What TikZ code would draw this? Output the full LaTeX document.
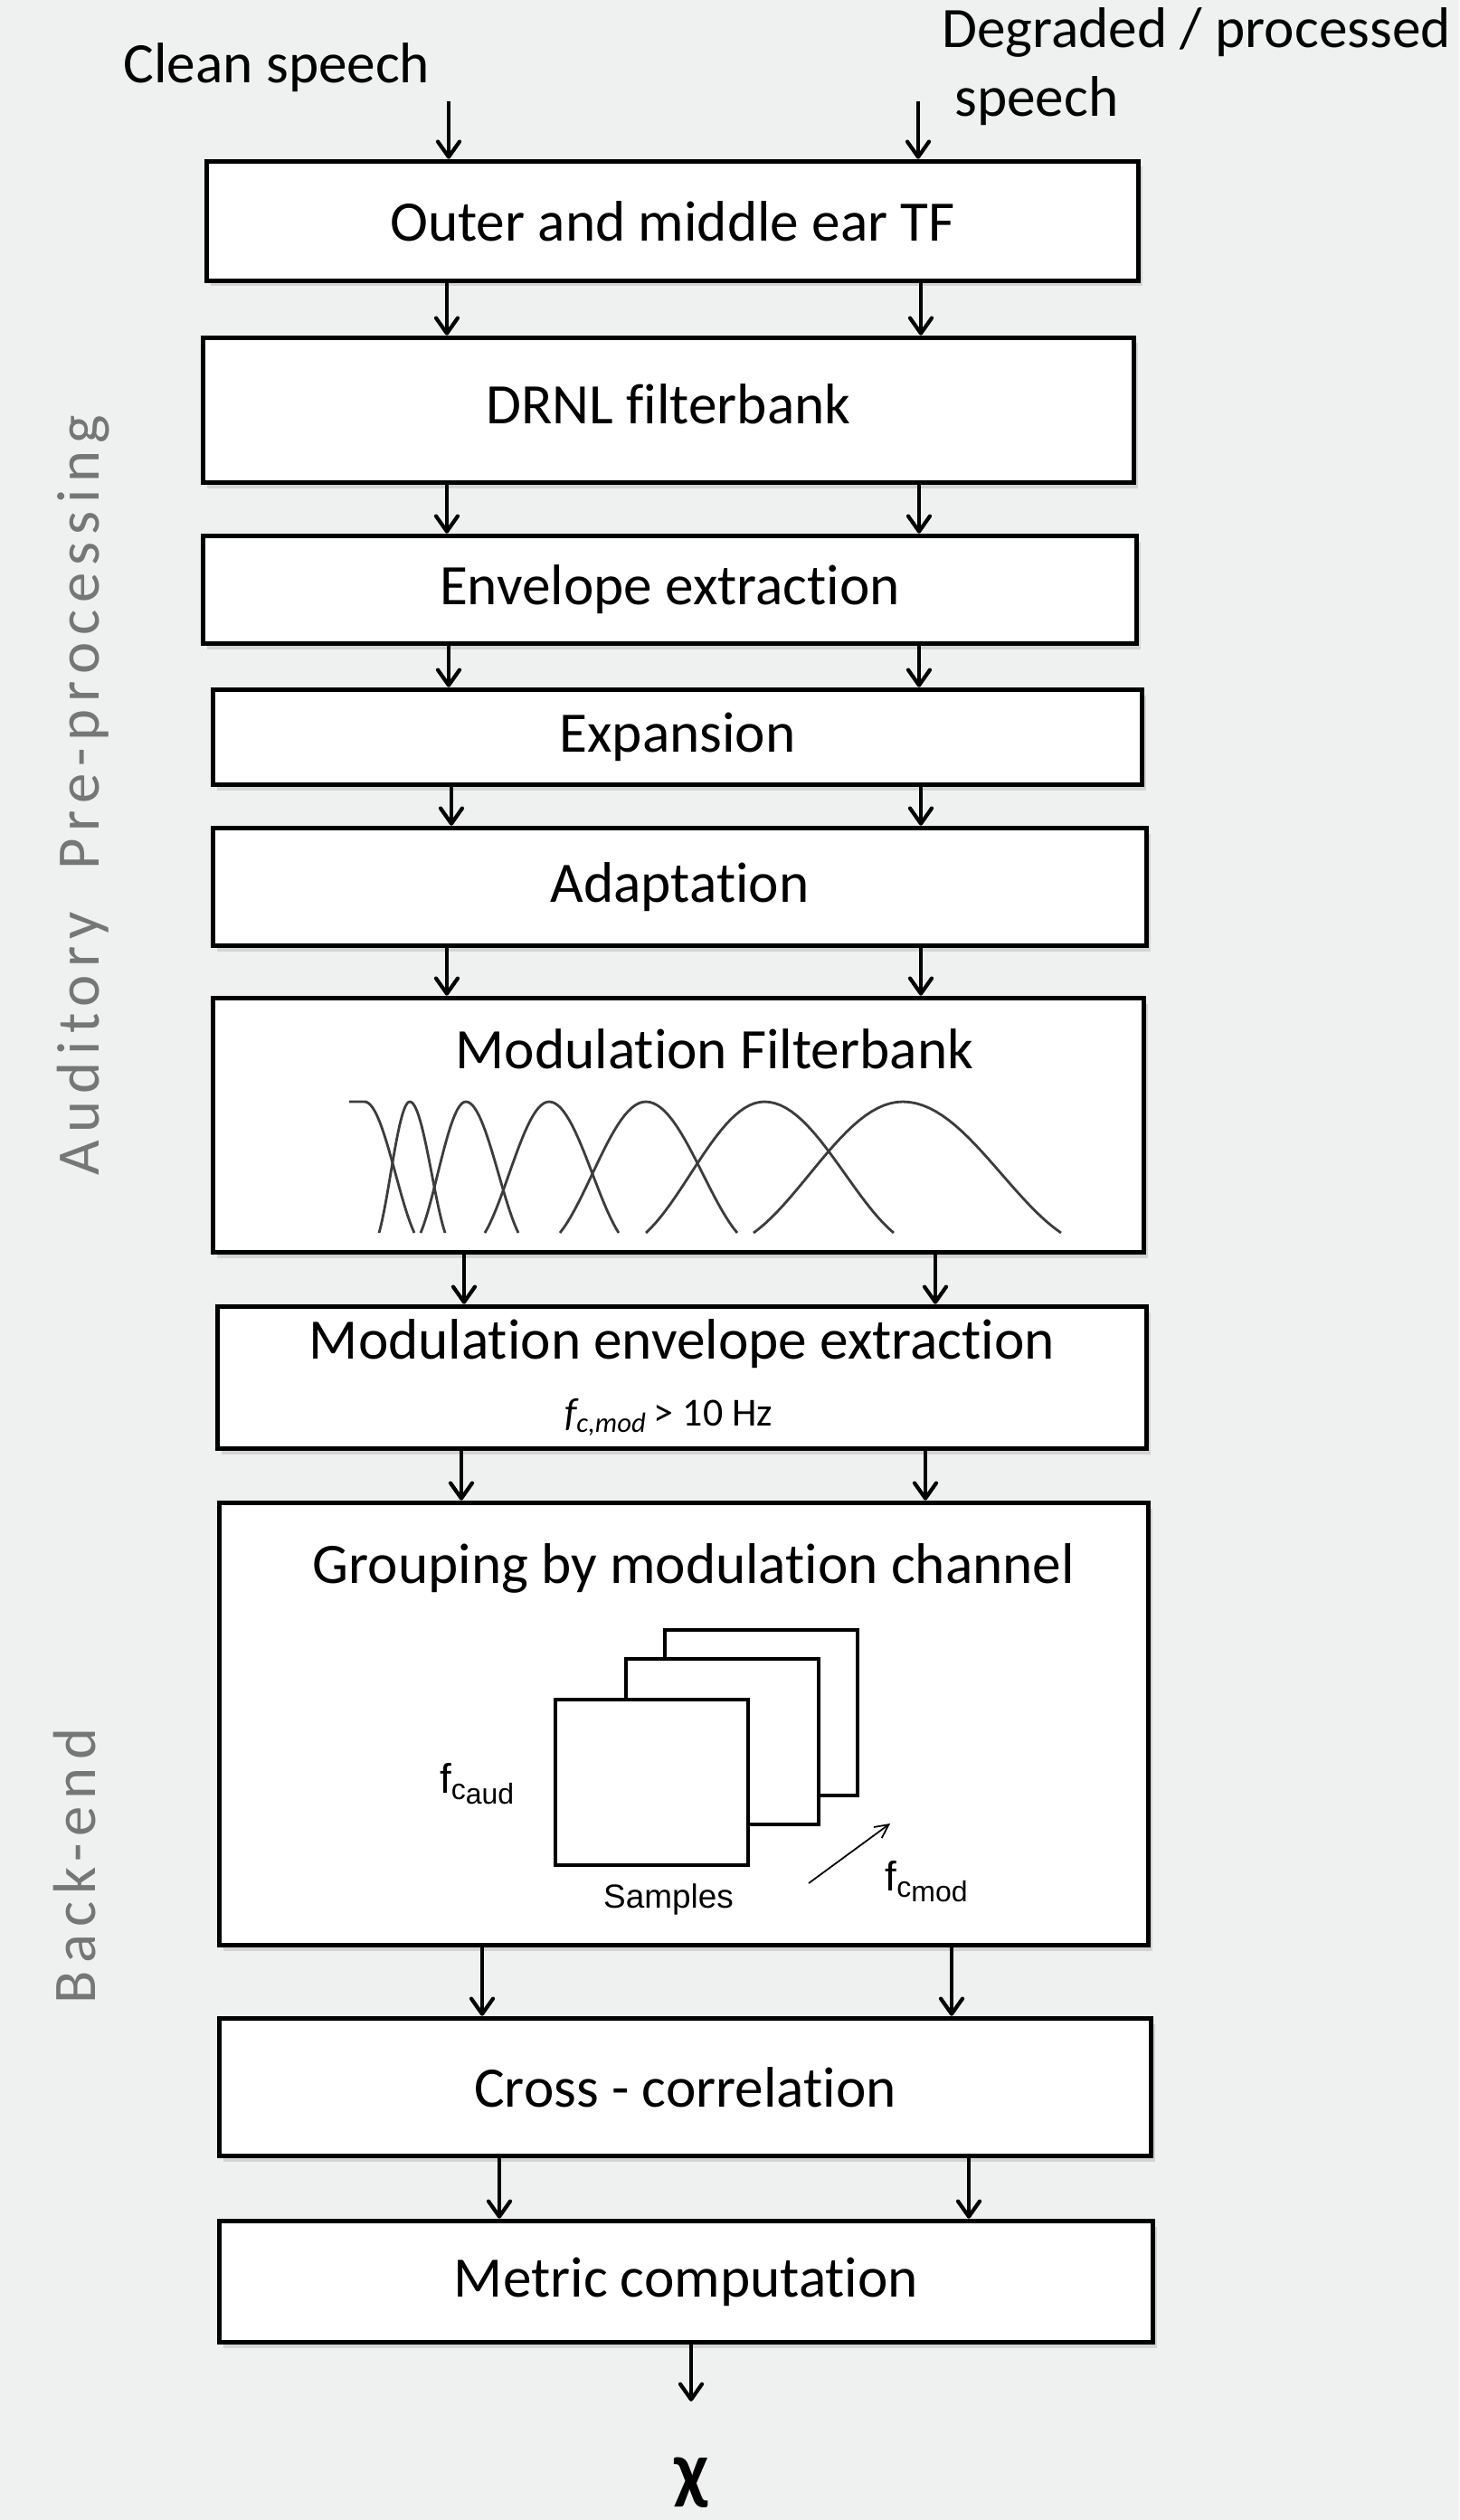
\documentclass[tikz,border=0pt]{standalone}
\usepackage{fontspec}
\setmainfont[Ligatures=NoCommon]{Carlito}
\newfontfamily\arialfont{Liberation Sans}
\newfontfamily\sidefont[LetterSpace=12]{Carlito}
\usetikzlibrary{arrows.meta,shadows}

\definecolor{bgcol}{RGB}{239,241,240}
\definecolor{sidegray}{RGB}{118,118,118}
\definecolor{filtgray}{RGB}{60,60,60}

\begin{document}
\begin{tikzpicture}[
    blockbox/.style={draw, line width=1.6pt, fill=white, inner sep=0pt, align=center,
        font=\fontsize{18}{21.6}\selectfont,
        drop shadow={shadow xshift=0.04cm, shadow yshift=-0.06cm, opacity=0.25}},
    arr/.style={line width=1.2pt, -{Straight Barb[length=0.17cm,width=0.24cm,round]}},
    bigtext/.style={font=\fontsize{18}{21.6}\selectfont},
    sidelabel/.style={rotate=90, text=sidegray, font=\sidefont\fontsize{19}{22}\selectfont},
    filt/.style={filtgray, line width=0.8pt},
    sheet/.style={draw, fill=white, line width=1.1pt}]

    % Background and page size
    \fill[bgcol] (0,0) rectangle (16.13,-27.86);
    \useasboundingbox (0,0) rectangle (16.13,-27.86);

    % Inputs
    \node[bigtext] (clean) at (3.06,-0.75) {Clean speech};
    \node[bigtext, align=left, anchor=west] (degraded) at (10.29,-0.74)
        {Degraded / processed\\\hspace{0.14cm}speech};
    \coordinate (inclean) at (4.96,-1.12);
    \coordinate (indeg) at (10.15,-1.12);

    % Processing blocks
    \foreach \name/\x/\y/\w/\h/\txt in {
        outer/7.435/-2.445/10.30/1.32/{Outer and middle ear TF},
        drnl/7.39/-4.535/10.29/1.60/{\raisebox{0.13cm}{DRNL filterbank}},
        envelope/7.405/-6.52/10.32/1.19/{Envelope extraction},
        expansion/7.49/-8.15/10.27/1.05/{Expansion},
        adaptation/7.515/-9.805/10.32/1.30/{Adaptation},
        modfb/7.50/-12.44/10.29/2.81/{},
        grouping/7.56/-19.06/10.27/4.89/{},
        xcorr/7.575/-23.075/10.30/1.52/{Cross - correlation},
        metric/7.585/-25.225/10.32/1.34/{Metric computation}}{
        \node[blockbox, minimum width=\w cm, minimum height=\h cm] (\name) at (\x,\y) {\txt};
    }
    \node[blockbox, minimum width=10.27cm, minimum height=1.57cm] (modenv) at (7.54,-15.23)
        {Modulation envelope extraction\\[-0.02cm]
         {\fontsize{12.5}{15}\selectfont\hspace{-0.3cm}\itshape f\textsubscript{c,mod}\upshape\,> 10 Hz}};

    % Modulation filterbank
    \node[bigtext] (modfbtitle) at (7.90,-11.60) {Modulation Filterbank};
    \draw[filt] (3.86,-12.18) -- (4.03,-12.18) -- plot[domain=0:1, samples=25, variable=\t]
        ({4.03+0.55*\t}, {-13.63+1.45*((1+cos(144*\t))/2-0.0955)/0.9045});
    \foreach \L/\P/\R in {4.19/4.53/4.92, 4.65/5.15/5.73, 5.36/6.07/6.84,
                          6.19/7.14/8.15, 7.14/8.45/9.88, 8.33/9.98/11.73}{
        \draw[filt] plot[domain=0:1, samples=25, variable=\t]
            ({\L+(\P-\L)*\t}, {-13.63+1.45*((1+cos(144*(1-\t)))/2-0.0955)/0.9045})
            -- plot[domain=0:1, samples=25, variable=\t]
            ({\P+(\R-\P)*\t}, {-13.63+1.45*((1+cos(144*\t))/2-0.0955)/0.9045});
    }

    % Grouping by modulation channel
    \node[bigtext] (grouptitle) at (7.67,-17.34) {Grouping by modulation channel};
    \foreach \x/\y in {7.35/-18.02, 6.92/-18.34, 6.14/-18.79}{
        \draw[sheet] (\x,\y) rectangle ++(2.13,-1.83);
    }
    \node[font=\arialfont\fontsize{13}{15}\selectfont] (faud) at (5.28,-19.72)
        {f\textsubscript{c\raisebox{-0.3ex}{aud}}};
    \node[font=\arialfont\fontsize{10.5}{12}\selectfont] (samples) at (7.39,-21.00) {Samples};
    \node[font=\arialfont\fontsize{13}{15}\selectfont] (fmod) at (10.25,-20.80)
        {f\textsubscript{c\raisebox{-0.3ex}{mod}}};
    \draw[line width=0.5pt, -{Straight Barb[length=0.15cm,width=0.15cm]}] (8.94,-20.82) -- (9.84,-20.16);

    % Output
    \node[font=\fontsize{24}{28}\selectfont\bfseries] (chi) at (7.64,-27.45) {χ};

    % Side labels
    \node[sidelabel] (auditory) at (0.92,-8.79) {Auditory\ \ Pre-processing};
    \node[sidelabel] (backend) at (0.83,-20.63) {Back-end};

    % Connectors
    \draw[arr] (inclean) -- (outer.north -| inclean);
    \draw[arr] (indeg) -- (outer.north -| indeg);
    \foreach \a/\b/\l/\r in {outer/drnl/4.94/10.18, drnl/envelope/4.94/10.16,
                             envelope/expansion/4.96/10.16, expansion/adaptation/4.99/10.18,
                             adaptation/modfb/4.94/10.18, modfb/modenv/5.13/10.34,
                             modenv/grouping/5.10/10.23, grouping/xcorr/5.33/10.52,
                             xcorr/metric/5.52/10.71}{
        \draw[arr] (\a.south -| \l,0) -- (\b.north -| \l,0);
        \draw[arr] (\a.south -| \r,0) -- (\b.north -| \r,0);
    }
    \draw[arr, shorten >=0.5cm] (metric.south -| chi) -- (chi.north);

\end{tikzpicture}
\end{document}
